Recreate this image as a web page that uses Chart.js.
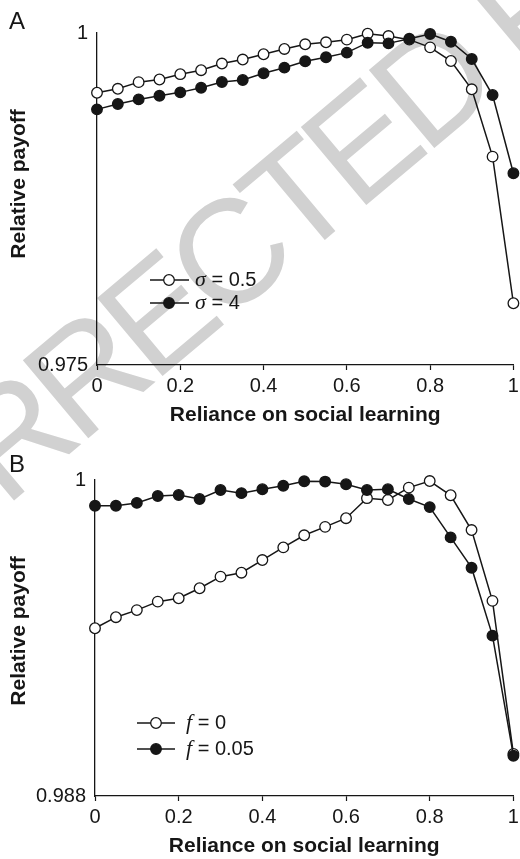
<!DOCTYPE html>
<html>
<head>
<meta charset="utf-8">
<title>Relative payoff vs reliance on social learning</title>
<script src="https://cdn.jsdelivr.net/npm/chart.js@4.4.1/dist/chart.umd.min.js"></script>
<style>
  html, body { margin: 0; padding: 0; background: #ffffff; }
  #page { position: relative; width: 520px; height: 859px; overflow: hidden; }
  #stamp, #panelA, #panelB { position: absolute; left: 0; }
  #stamp { top: 0; }
  #panelA { top: 0; }
  #panelB { top: 430px; }
</style>
</head>
<body>
<div id="page">
  <canvas id="stamp" width="520" height="859"></canvas>
  <canvas id="panelA" width="520" height="430"></canvas>
  <canvas id="panelB" width="520" height="429"></canvas>
</div>
<script>
// Reliance on social learning (shared x values for every series)
const reliance = [0, 0.05, 0.1, 0.15, 0.2, 0.25, 0.3, 0.35, 0.4, 0.45, 0.5,
                  0.55, 0.6, 0.65, 0.7, 0.75, 0.8, 0.85, 0.9, 0.95, 1];

// Panel A: relative payoff for two values of sigma
const payoffSigmaHalf = [0.9955, 0.9958, 0.9963, 0.9965, 0.9969, 0.9972, 0.9977, 0.9980, 0.9984, 0.9988, 0.99915,
                         0.9993, 0.9995, 0.99995, 0.99977, 0.9995, 0.99892, 0.99789, 0.99576, 0.99069, 0.97965];
const payoffSigmaFour = [0.99425, 0.99465, 0.9950, 0.99528, 0.99553, 0.99588, 0.99631, 0.99646, 0.99697, 0.99739, 0.99787,
                         0.99817, 0.99852, 0.99927, 0.99922, 0.99957, 0.99992, 0.99934, 0.99804, 0.99533, 0.98944];

// Panel B: relative payoff for two values of f
const payoffFZero  = [0.99437, 0.99479, 0.99506, 0.99538, 0.99551, 0.99589, 0.99633, 0.99648, 0.99696, 0.99744, 0.9979,
                      0.99822, 0.99855, 0.99931, 0.99924, 0.99971, 0.99996, 0.99942, 0.9981, 0.99541, 0.9896];
const payoffFSmall = [0.99902, 0.99902, 0.99913, 0.99939, 0.99943, 0.99928, 0.99962, 0.9995, 0.99965, 0.99978, 0.99995,
                      0.99994, 0.99984, 0.99962, 0.99965, 0.99928, 0.99897, 0.99782, 0.99667, 0.99409, 0.98953];

// Tick values and labels
const xTickValues = [0, 0.2, 0.4, 0.6, 0.8, 1];
const xTickLabels = ['0', '0.2', '0.4', '0.6', '0.8', '1'];
const yTicksA = [0.975, 1];
const yTickLabelsA = ['0.975', '1'];
const yTicksB = [0.988, 1];
const yTickLabelsB = ['0.988', '1'];

const SANS = '"Liberation Sans", Arial, Helvetica, sans-serif';
const SERIF = '"Liberation Serif", "Times New Roman", serif';
const INK = '#161616';

// Faint diagonal proof stamp behind both panels
(function drawStamp() {
  const c = document.getElementById('stamp');
  const ctx = c.getContext('2d');
  const text = 'UNCORRECTED PROOF';
  const size = 148;
  const angle = 40 * Math.PI / 180;
  ctx.font = size + 'px ' + SANS;
  ctx.letterSpacing = '-10px';
  const before = ctx.measureText('UNCORRECTE').width;
  const dW = ctx.measureText('D').width;
  const capH = size * 0.716;
  const lx = before + dW / 2, ly = -capH / 2;
  const px = 428, py = 84;
  const ox = px - (lx * Math.cos(angle) + ly * Math.sin(angle));
  const oy = py - (-lx * Math.sin(angle) + ly * Math.cos(angle));
  ctx.save();
  ctx.translate(ox, oy);
  ctx.rotate(-angle);
  ctx.fillStyle = '#d1d1d1';
  ctx.textBaseline = 'alphabetic';
  ctx.fillText(text, 0, 0);
  ctx.restore();
})();

// Panel letter, rotated y title and inline legend
const panelDecor = {
  id: 'panelDecor',
  afterDraw(chart, args, o) {
    const ctx = chart.ctx;
    ctx.save();
    ctx.fillStyle = INK;
    ctx.font = '24px ' + SANS;
    ctx.textAlign = 'left';
    ctx.textBaseline = 'alphabetic';
    ctx.fillText(o.letter, 9, o.letterY);

    ctx.save();
    ctx.translate(o.yTitleX, o.yTitleY);
    ctx.rotate(-Math.PI / 2);
    ctx.font = 'bold 21px ' + SANS;
    ctx.textAlign = 'center';
    ctx.textBaseline = 'middle';
    ctx.fillText('Relative payoff', 0, 0);
    ctx.restore();

    o.legend.forEach(item => {
      ctx.strokeStyle = INK;
      ctx.lineWidth = 1.5;
      ctx.beginPath();
      ctx.moveTo(o.legendX1, item.y);
      ctx.lineTo(o.legendX2, item.y);
      ctx.stroke();
      ctx.beginPath();
      ctx.arc(o.legendCX, item.y, 5.3, 0, Math.PI * 2);
      ctx.fillStyle = item.filled ? INK : '#ffffff';
      ctx.fill();
      ctx.lineWidth = 1.3;
      ctx.stroke();
      ctx.fillStyle = INK;
      ctx.textBaseline = 'middle';
      ctx.font = 'italic 22px ' + SERIF;
      ctx.fillText(item.symbol, o.legendTextX, item.y);
      const w = ctx.measureText(item.symbol).width;
      ctx.font = '20px ' + SANS;
      ctx.fillText(' = ' + item.value, o.legendTextX + w, item.y);
    });
    ctx.restore();
  }
};

function series(values, filled) {
  return {
    data: reliance.map((x, i) => ({ x: x, y: values[i] })),
    borderColor: INK,
    borderWidth: 1.5,
    tension: 0,
    pointRadius: 5.3,
    pointHoverRadius: 5.3,
    pointBorderWidth: 1.3,
    pointBorderColor: INK,
    pointBackgroundColor: filled ? INK : '#ffffff',
    clip: false
  };
}

function buildPanel(canvasId, cfg) {
  return new Chart(document.getElementById(canvasId), {
    type: 'line',
    data: {
      // filled series first so it sits on top where the curves meet
      datasets: [series(cfg.filled, true), series(cfg.open, false)]
    },
    options: {
      responsive: false,
      animation: false,
      devicePixelRatio: 1,
      layout: { padding: { left: 0, right: 3, top: cfg.top, bottom: 0 } },
      plugins: {
        legend: { display: false },
        tooltip: { enabled: false },
        panelDecor: cfg.decor
      },
      scales: {
        x: {
          type: 'linear',
          min: 0,
          max: 1,
          afterBuildTicks: s => { s.ticks = xTickValues.map(v => ({ value: v })); },
          ticks: {
            autoSkip: false,
            maxRotation: 0,
            padding: 4,
            color: INK,
            font: { family: SANS, size: 20 },
            callback: (v, i) => xTickLabels[i]
          },
          grid: {
            display: true,
            drawOnChartArea: false,
            drawTicks: true,
            tickLength: 5,
            tickColor: INK,
            tickWidth: 1.2
          },
          border: { display: true, color: INK, width: 1.3 },
          title: {
            display: true,
            text: 'Reliance on social learning',
            color: INK,
            font: { family: SANS, size: 21, weight: 'bold' },
            padding: { top: 0, bottom: cfg.titlePad }
          },
          afterFit: s => { s.height = cfg.xHeight; s.paddingLeft = 0; s.paddingRight = 0; }
        },
        y: {
          type: 'linear',
          min: cfg.yTicks[0],
          max: cfg.yTicks[1],
          afterBuildTicks: s => { s.ticks = cfg.yTicks.map(v => ({ value: v })); },
          ticks: {
            padding: 9,
            color: INK,
            font: { family: SANS, size: 20 },
            callback: (v, i) => cfg.yLabels[i]
          },
          grid: { display: false, drawTicks: false },
          border: { display: true, color: INK, width: 1.3 },
          afterFit: s => { s.width = cfg.yWidth; s.paddingTop = 0; s.paddingBottom = 0; }
        }
      }
    },
    plugins: [panelDecor]
  });
}

buildPanel('panelA', {
  open: payoffSigmaHalf,
  filled: payoffSigmaFour,
  top: 33,
  xHeight: 65,
  titlePad: 2.4,
  yWidth: 97,
  yTicks: yTicksA,
  yLabels: yTickLabelsA,
  decor: {
    letter: 'A', letterY: 28.5,
    yTitleX: 19, yTitleY: 184,
    legendX1: 150, legendX2: 189, legendCX: 169, legendTextX: 195,
    legend: [
      { symbol: 'σ', value: '0.5', filled: false, y: 280 },
      { symbol: 'σ', value: '4', filled: true, y: 303 }
    ]
  }
});

buildPanel('panelB', {
  open: payoffFZero,
  filled: payoffFSmall,
  top: 50,
  xHeight: 63,
  titlePad: 0.4,
  yWidth: 95,
  yTicks: yTicksB,
  yLabels: yTickLabelsB,
  decor: {
    letter: 'B', letterY: 42,
    yTitleX: 19, yTitleY: 201,
    legendX1: 137, legendX2: 175, legendCX: 156, legendTextX: 186,
    legend: [
      { symbol: 'f', value: '0', filled: false, y: 293 },
      { symbol: 'f', value: '0.05', filled: true, y: 319 }
    ]
  }
});
</script>
</body>
</html>
